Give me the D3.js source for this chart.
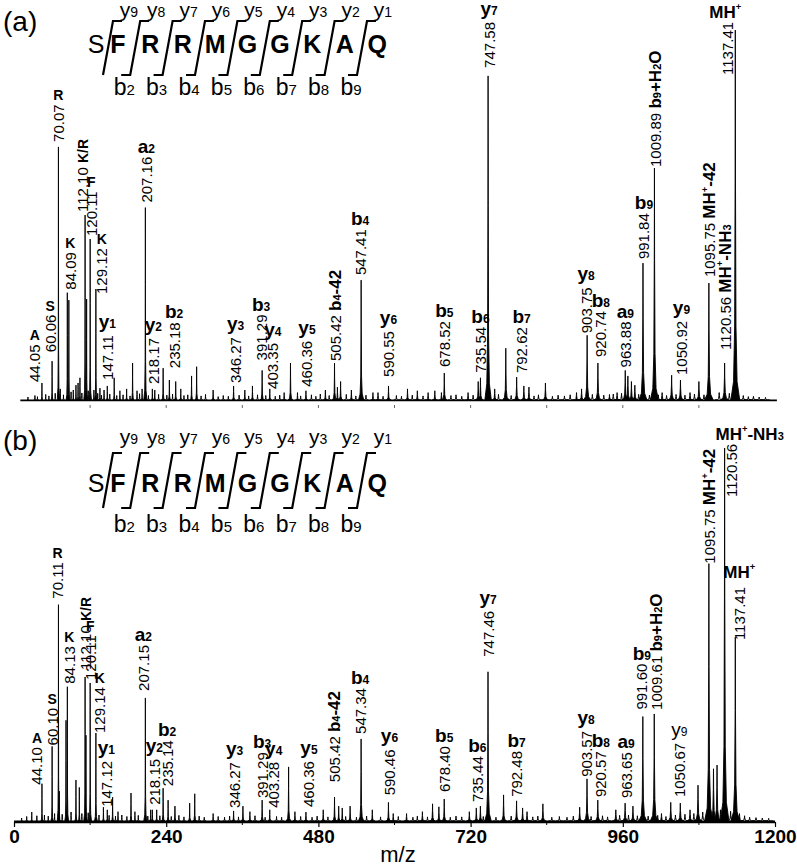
<!DOCTYPE html>
<html><head><meta charset="utf-8">
<script src="https://cdn.jsdelivr.net/npm/d3@7"></script>
<style>body{margin:0;background:#fff}svg{display:block;font-family:"Liberation Sans",Arial,sans-serif}</style>
</head><body>
<svg id="c" width="797" height="868"></svg>
<script>
// ---------- DATA ----------
const sequence = ["S","F","R","R","M","G","G","K","A","Q"];
const xTicks = [0,240,480,720,960,1200];
const xMinorTicks = [120,360,600,840,1080];

// panel (a) peaks: [m/z, relative intensity %]
const peaksA = [
 [44.05,4.6],[60.06,10.5],[70.07,68.4],[73,3],[84.09,29],[86.5,27],[93.5,2.7],[97.7,4],[101,4.6],[104,6],
 [112.10,50],[114.5,27.3],[120.11,43.5],[126,2.7],[129.12,30],[135.5,3.2],[142,2.7],[147.11,3.8],[158,6],
 [167,2.5],[177.6,3],[187,10],[194,2.5],[202,3],[207.16,52],[218.17,3],[222,2.7],[235.18,8.6],[245,5.4],
 [255,5],[263,3],[280,6.5],[288,9],[314,2.7],[346.27,3.8],[364,2.7],[376,3.8],[391.29,8],[403.35,3],
 [426,2],[436,10],[447,2],[460.36,2.5],[491,2.7],[505.42,10],[510,3.5],[515,5],[532,2.7],[547.41,32.4],
 [566,2],[574,2],[590.55,3.8],[620.5,3],[636,2.5],[653,2],[663.6,2.5],[674,2],[678.52,7.3],[716,2],
 [732,5],[735.54,6],[747.58,87.6],[758,3],[775.5,14],[792.62,6.2],[804,3.8],[812,3.5],[838,4.6],[887,2],
 [895,3],[903.75,17.5],[920.74,10],[939,1.5],[951,2],[963.88,8],[968,6.5],[973.6,5],[979,4],[991.84,37],
 [1009.89,62.7],[1022,2],[1037,6.7],[1050.92,5.4],[1066,2],[1080,5],[1095.75,31.6],[1120.56,10],[1137.41,100]
];
const noiseA = [
 [22,0.8],[33,1.2],[37,0.9],[50,1.5],[55,1.1],[65,1.8],[78,1.4],[90,2.2],[107,1.9],[117,2.5],[132,1.8],
 [138,1.3],[151,1.6],[162,1.2],[172,1.4],[183,1.1],[198,1.7],[212,1.2],[228,1.5],[241,1.3],[250,1.6],
 [268,1.2],[274,1.4],[295,1.1],[302,1.5],[322,0.9],[330,1.2],[338,1.0],[355,1.3],[370,1.1],[384,1.4],
 [397,1.2],[412,1.0],[419,1.3],[452,1.1],[469,1.4],[476,1.0],[483,1.6],[497,1.2],[524,1.5],[539,1.1],
 [555,1.3],[582,1.0],[603,1.2],[611,1.0],[628,1.3],[645,1.1],[689,1.2],[697,1.4],[706,1.0],[724,1.3],
 [764,1.5],[784,1.2],[820,1.1],[827,1.4],[849,1.0],[858,1.3],[868,1.1],[877,1.4],[912,1.5],[930,1.3],
 [945,1.6],[958,1.8],[985,1.5],[1002,1.3],[1016,1.4],[1029,1.2],[1044,1.5],[1058,1.3],[1073,1.6],
 [1088,1.4],[1112,2.0],[1128,1.8],[1150,1.2],[1158,0.9],[1166,1.0],[1175,0.8],[1185,0.7]
];
const labelsA = [
 ["44.05","A"],["60.06","S"],["70.07","R"],["84.09","K"],["112.10","K/R"],["120.11","F"],["129.12","K"],
 ["147.11","y_1"],["207.16","a_2"],["218.17","y_2"],["235.18","b_2"],["346.27","y_3"],["391.29","b_3"],
 ["403.35","y_4"],["460.36","y_5"],["505.42","b_4-42"],["547.41","b_4"],["590.55","y_6"],["678.52","b_5"],
 ["735.54","b_6"],["747.58","y_7"],["792.62","b_7"],["903.75","y_8"],["920.74","b_8"],["963.88","a_9"],
 ["991.84","b_9"],["1009.89","b_9+H_2O"],["1050.92","y_9"],["1095.75","MH^+-42"],["1120.56","MH^+-NH_3"],
 ["1137.41","MH^+"]
];

// panel (b) peaks
const peaksB = [
 [28,2.4],[44.10,10],[60.10,20],[70.11,58],[71.5,8],[82,27],[84.13,36],[97.7,11],[103,9],[112.10,38.6],
 [113.5,23],[120.11,37],[129.14,23.6],[141,3.7],[147.12,3],[155.5,6.4],[164,2.5],[184.5,7.5],[190.7,2.5],
 [207.15,33],[215.5,3],[218.15,3],[225,3],[235.14,8.8],[243,5.6],[253.8,4],[277,4.8],[285,7.3],[314,2],
 [346.27,2.7],[361,4],[372,2.5],[391.29,5.6],[403.28,3],[433,14.5],[443,2.5],[460.36,2.4],[487.6,3],
 [505.42,6.4],[512,4],[517.6,3.5],[530,4],[547.34,22],[565,3],[590.46,5],[598,2],[619,2],[644,2.5],
 [660,4.6],[670,3.8],[678.40,5.9],[718,2.5],[729,3.5],[735.44,4],[747.46,40],[772,7],[792.48,5.4],
 [802,3.5],[809,2.5],[834,4.6],[892,3.7],[903.57,11.3],[920.57,5.6],[949,3],[963.65,4.8],[976,4],
 [991.60,28],[1009.61,28.7],[1021,2],[1035.6,5],[1050.67,4.8],[1066,3],[1078.6,9.6],[1095.75,69],
 [1103,14],[1108.6,15],[1120.56,100],[1137.41,49.3],[1144,2]
];
const noiseB = [
 [12,0.8],[20,1.2],[36,1.4],[48,1.6],[54,1.3],[64,2.0],[76,1.8],[90,2.4],[107,2.0],[117,2.2],[134,1.6],
 [150,1.5],[160,1.3],[170,1.6],[178,1.2],[196,1.5],[211,1.3],[230,1.4],[248,1.2],[260,1.5],[268,1.1],
 [292,1.3],[300,1.0],[322,1.2],[332,1.0],[340,1.3],[354,1.1],[380,1.4],[396,1.0],[414,1.2],[422,1.0],
 [452,1.2],[470,1.0],[478,1.3],[495,1.1],[523,1.2],[540,1.0],[556,1.3],[578,1.1],[606,1.2],[629,1.0],
 [636,1.3],[652,1.1],[688,1.0],[697,1.3],[706,1.1],[740,1.2],[760,1.0],[784,1.3],[818,1.1],[826,1.3],
 [848,1.0],[860,1.2],[872,1.0],[882,1.3],[910,1.2],[928,1.4],[936,1.1],[955,1.5],[969,1.6],[983,1.4],
 [1000,1.3],[1015,1.5],[1028,1.2],[1043,1.6],[1058,1.8],[1072,2.0],[1086,2.4],[1114,3.0],[1130,2.6],
 [1152,1.4],[1160,1.0],[1170,0.9],[1180,0.8],[1190,0.7]
];
const labelsB = [
 ["44.10","A"],["60.10","S"],["70.11","R"],["84.13","K"],["112.10","K/R"],["120.11","F"],["129.14","K"],
 ["147.12","y_1"],["207.15","a_2"],["218.15","y_2"],["235.14","b_2"],["346.27","y_3"],["391.29","b_3"],
 ["403.28","y_4"],["460.36","y_5"],["505.42","b_4-42"],["547.34","b_4"],["590.46","y_6"],["678.40","b_5"],
 ["735.44","b_6"],["747.46","y_7"],["792.48","b_7"],["903.57","y_8"],["920.57","b_8"],["963.65","a_9"],
 ["991.60","b_9"],["1009.61","b_9+H_2O"],["1050.67","y_9"],["1095.75","MH^+-42"],["1120.56","MH^+-NH_3"],
 ["1137.41","MH^+"]
];

// ---------- LAYOUT (label nudges, not data) ----------
const layoutA = {
 "44.05":{dx:-7,gap:1,s:"aa"},"60.06":{dx:-2,gap:9,s:"aa"},"70.07":{dx:0,gap:5,s:"aa"},"84.09":{dx:3,gap:3,s:"aa"},
 "112.10":{dx:-3,gap:3,s:"rotaa"},"120.11":{dx:1,gap:3,s:"aa"},"129.12":{dx:6,gap:-5,s:"aa"},
 "147.11":{dx:0,gap:6},"207.16":{dx:1,gap:5},"218.17":{dx:1,gap:5},"235.18":{dx:11,gap:0},"346.27":{dx:2,gap:3},
 "391.29":{dx:-1,gap:10},"403.35":{dx:3,gap:0},"460.36":{dx:1,gap:4},"505.42":{dx:1,gap:2,s:"rot"},
 "547.41":{dx:-1,gap:5},"590.55":{dx:0,gap:9},"678.52":{dx:0,gap:6},"735.54":{dx:0,gap:5},"747.58":{dx:1,gap:8},
 "792.62":{dx:5,gap:4},"903.75":{dx:-1,gap:2},"920.74":{dx:3,gap:6},"963.88":{dx:0,gap:3},"991.84":{dx:1,gap:4},
 "1009.89":{dx:1,gap:1,s:"rot"},"1050.92":{dx:1,gap:5},"1095.75":{dx:1,gap:6,s:"rot"},
 "1120.56":{dx:1,gap:13,s:"rot"},"1137.41":{dx:-8,gap:-45,s:"mh",idx:-2}
};
const layoutB = {
 "44.10":{dx:-5,gap:-1,s:"aa"},"60.10":{dx:0,gap:1,s:"aa"},"70.11":{dx:-1,gap:6,s:"aa"},"84.13":{dx:2,gap:3,s:"aa"},
 "112.10":{dx:0,gap:7,s:"rotaa"},"120.11":{dx:0,gap:3,s:"aa"},"129.14":{dx:4,gap:0,s:"aa"},
 "147.12":{dx:-1,gap:3},"207.15":{dx:-2,gap:7},"218.15":{dx:2,gap:5},"235.14":{dx:4,gap:2},"346.27":{dx:1,gap:3},
 "391.29":{dx:0,gap:2},"403.28":{dx:4,gap:2},"460.36":{dx:3,gap:5},"505.42":{dx:0,gap:15,s:"rot"},
 "547.34":{dx:-1,gap:5},"590.46":{dx:1,gap:7},"678.40":{dx:0,gap:7},"735.44":{dx:-3,gap:4},"747.46":{dx:0,gap:15},
 "792.48":{dx:0,gap:4},"903.57":{dx:-1,gap:2},"920.57":{dx:3,gap:3},"963.65":{dx:1,gap:5},"991.60":{dx:-1,gap:7},
 "1009.61":{dx:2,gap:4,s:"rot"},"1050.67":{dx:-1,gap:6,reg:true},"1095.75":{dx:1,gap:0,s:"rot"},
 "1120.56":{dx:7,gap:-49,s:"mh",idx:18},"1137.41":{dx:4,gap:-3,s:"mh",idy:-5}
};

// ---------- DRAW ----------
const svg = d3.select("#c");
const x = d3.scaleLinear().domain([0,1200]).range([14,775]);
const yA = d3.scaleLinear().domain([0,100]).range([400,30]);
const yB = d3.scaleLinear().domain([0,100]).range([821,448]);

function rich(sel, s, size, sub, weight){
  const segs=[]; let cur=''; let i=0;
  while(i<s.length){const c=s[i];
    if(c==='_'||c==='^'){ if(cur){segs.push({t:cur,k:'n'});cur='';} segs.push({t:s[i+1],k:c==='_'?'sub':'sup'}); i+=2; }
    else {cur+=c;i++;}
  }
  if(cur) segs.push({t:cur,k:'n'});
  let shift=0;
  segs.forEach(sg=>{
    const ts=sel.append('tspan').text(sg.t).attr('font-weight',weight);
    if(sg.k==='sup'){ const d=-size*0.45; ts.attr('font-size',sub*0.85).attr('dy',d); shift=d; }
    else { ts.attr('font-size',sg.k==='sub'?sub:size); if(shift){ts.attr('dy',-shift); shift=0;} }
  });
}

function peakPath(mz, h){
  const w = 0.5 + mz*0.0016;
  return [[mz-3*w,0],[mz-1.2*w,0.05*h],[mz-0.45*w,0.2*h],[mz-0.12*w,0.6*h],[mz,h],
          [mz+0.12*w,0.6*h],[mz+0.45*w,0.2*h],[mz+1.2*w,0.05*h],[mz+3*w,0]];
}

function drawSpectrum(g, peaks, noise, y, x0, x1){
  g.append('line').attr('x1',x(x0)).attr('x2',x(x1)).attr('y1',y(0)+0.3).attr('y2',y(0)+0.3)
    .attr('stroke','#000').attr('stroke-width',1.8);
  const line = d3.line().x(d=>x(d[0])).y(d=>y(d[1]));
  g.selectAll('path.n').data(noise).join('path').attr('class','n')
    .attr('d',d=>line(peakPath(d[0],d[1]))).attr('fill','none').attr('stroke','#000').attr('stroke-width',1);
  g.selectAll('path.p').data(peaks).join('path').attr('class','p')
    .attr('d',d=>line(peakPath(d[0],d[1]))).attr('fill','#000').attr('stroke','#000').attr('stroke-width',0.9);
}

function drawLabels(g, labels, peaks, y, layout){
  labels.forEach(([mzStr, ion])=>{
    const mz=+mzStr;
    const pk = peaks.find(p=>Math.abs(p[0]-mz)<0.005);
    const L = layout[mzStr]||{};
    const dx=L.dx||0, gap=(L.gap===undefined?4:L.gap), st=L.s||'ion';
    const px = x(mz)+dx, bottom = y(pk[1])-gap;
    const t = g.append('text').attr('transform',`translate(${px+5.5},${bottom}) rotate(-90)`)
      .attr('font-size',15).attr('fill','#000');
    t.append('tspan').text(mzStr);
    if(st==='rot'||st==='rotaa'){
      t.append('tspan').text(' ');
      rich(t, ion, st==='rot'?17:14, st==='rot'?11:10, 'bold');
    } else {
      const len = t.node().getComputedTextLength();
      const top = bottom-len;
      const fs = st==='aa'?14:(st==='mh'?17:19), sub = st==='aa'?10:(st==='mh'?11:12);
      const it = g.append('text').attr('x',px+(L.idx||0))
        .attr('y',top-4-(ion[0]==='y'?3:0)+(L.idy||0)).attr('text-anchor','middle');
      rich(it, ion, fs, sub, L.reg?'normal':'bold');
    }
  });
}

function drawHeader(g, o){
  const cx=[96,118]; for(let i=2;i<sequence.length;i++) cx.push(118+32.4*(i-1));
  sequence.forEach((c,i)=>{
    g.append('text').attr('x',cx[i]).attr('y',o.lb).attr('text-anchor','middle')
      .attr('font-size',25).attr('font-weight',i===0?'normal':'bold').text(c);
  });
  for(let k=1;k<sequence.length;k++){
    const m=(cx[k-1]+cx[k])/2;
    const p = k>=2 ? `M${m-13},${o.sb}L${m-4},${o.sb}L${m+6},${o.st}L${m+15},${o.st}`
                   : `M${m-4},${o.sb}L${m+6},${o.st}L${m+15},${o.st}`;
    g.append('path').attr('d',p).attr('fill','none').attr('stroke','#000').attr('stroke-width',2.2);
    const yt = g.append('text').attr('x',m+22).attr('y',o.yb).attr('text-anchor','middle');
    rich(yt, 'y_'+(10-k), 21, 14, 'normal');
    if(k>=2){
      const bt = g.append('text').attr('x',m-10).attr('y',o.bb).attr('text-anchor','middle');
      rich(bt, 'b_'+k, 23, 15, 'normal');
    }
  }
}

// Panel (a)
const gA = svg.append('g');
gA.append('text').attr('x',3).attr('y',31).attr('font-size',28).text('(a)');
drawHeader(gA,{lb:53,yb:17,bb:95,st:21,sb:75});
drawSpectrum(gA, peaksA, noiseA, yA, 10, 1203);
gA.selectAll('line.mt').data(xMinorTicks.concat([240,480,720,960])).join('line').attr('class','mt')
  .attr('x1',d=>x(d)).attr('x2',d=>x(d)).attr('y1',yA(0)+5).attr('y2',yA(0)+8)
  .attr('stroke','#666').attr('stroke-width',1);
drawLabels(gA, labelsA, peaksA, yA, layoutA);

// Panel (b)
const gB = svg.append('g');
gB.append('text').attr('x',3).attr('y',450).attr('font-size',28).text('(b)');
drawHeader(gB,{lb:492,yb:444,bb:532,st:453,sb:508});
drawSpectrum(gB, peaksB, noiseB, yB, 0, 1200);
const axis = d3.axisBottom(x).tickValues(xTicks).tickSize(5).tickSizeOuter(0).tickFormat(d3.format('d'));
const ax = gB.append('g').attr('transform',`translate(0,${yB(0)+1})`).call(axis);
ax.select('.domain').attr('stroke','#000').attr('stroke-width',1.5);
ax.selectAll('.tick line').attr('stroke','#000').attr('stroke-width',1.2);
ax.selectAll('.tick text').attr('font-size',19).attr('font-weight','bold').attr('fill','#000')
  .attr('font-family','"Liberation Sans",Arial,sans-serif').attr('dy','0.85em').attr('y',5);
gB.selectAll('line.mt').data(xMinorTicks).join('line').attr('class','mt')
  .attr('x1',d=>x(d)).attr('x2',d=>x(d)).attr('y1',yB(0)+1).attr('y2',yB(0)+4)
  .attr('stroke','#000').attr('stroke-width',1);
gB.append('text').attr('x',398).attr('y',862).attr('text-anchor','middle').attr('font-size',22).text('m/z');
drawLabels(gB, labelsB, peaksB, yB, layoutB);
</script>
</body></html>
